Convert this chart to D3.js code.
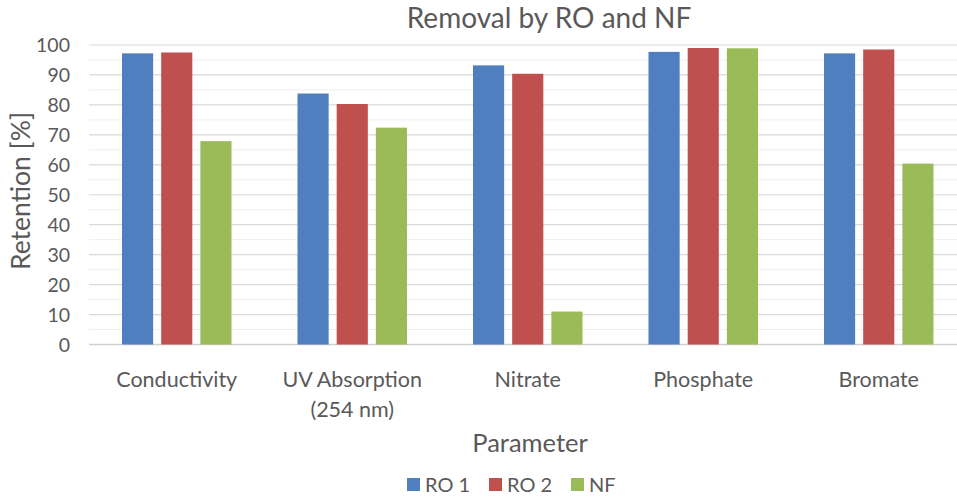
<!DOCTYPE html>
<html><head><meta charset="utf-8">
<script src="https://cdn.jsdelivr.net/npm/d3@7"></script>
<style>body{margin:0;background:#fff}svg{display:block}text{font-family:Lato,"Open Sans",sans-serif;fill:#595959}</style>
</head><body><svg id="c" width="957" height="498"></svg>
<script>
const categories = ["Conductivity", "UV Absorption\n(254 nm)", "Nitrate", "Phosphate", "Bromate"];
const seriesNames = ["RO 1", "RO 2", "NF"];
const ro1 = [97.2, 83.8, 93.2, 97.7, 97.2];
const ro2 = [97.5, 80.3, 90.4, 99.0, 98.5];
const nf  = [67.9, 72.4, 11.0, 98.9, 60.4];
const colors = ["#4f7fbe", "#c0504d", "#9bbb59"];
const yTicks = [0,10,20,30,40,50,60,70,80,90,100];
const minorTicks = [5,15,25,35,45,55,65,75,85,95];

const svg = d3.select("#c");
const x = d3.scaleBand().domain(categories).range([89, 966.5]);
const inner = d3.scaleBand().domain(seriesNames).range([33, 142.5]).paddingInner(8/39);
const y = d3.scaleLinear().domain([0,100]).range([344.5, 45]);
const series = [ro1, ro2, nf];

svg.append("g").selectAll("line").data(minorTicks).join("line")
  .attr("x1", 89).attr("x2", 957).attr("y1", d=>y(d)).attr("y2", d=>y(d))
  .attr("stroke", "#efefef").attr("stroke-width", 1);
svg.append("g").selectAll("line").data(yTicks).join("line")
  .attr("x1", 89).attr("x2", 957).attr("y1", d=>y(d)).attr("y2", d=>y(d))
  .attr("stroke", d=> d===0 ? "#d0d0d0" : "#d9d9d9").attr("stroke-width", d=> d===0?1.5:1.2);

svg.append("g").selectAll("text").data(yTicks).join("text")
  .attr("x", 70).attr("y", d=>y(d)).attr("dy", "0.36em").attr("text-anchor","end")
  .attr("font-size", 19.5).text(d=>d);

series.forEach((vals, si) => {
  svg.append("g").selectAll("rect").data(vals).join("rect")
    .attr("x", (d,i)=> x(categories[i]) + inner(seriesNames[si]))
    .attr("width", inner.bandwidth())
    .attr("y", d=>y(d)).attr("height", d=>y(0)-y(d))
    .attr("fill", colors[si]);
});

categories.forEach(c => {
  const lines = c.split("\n");
  const t = svg.append("text").attr("text-anchor","middle").attr("font-size",21.5)
    .attr("x", x(c)+x.bandwidth()/2).attr("y", 387);
  lines.forEach((l,i)=> t.append("tspan").attr("x", x(c)+x.bandwidth()/2).attr("dy", i?30:0).text(l));
});

svg.append("text").attr("x", 549).attr("y", 28).attr("text-anchor","middle").attr("font-size",28).text("Removal by RO and NF");
svg.append("text").attr("transform","translate(30,191) rotate(-90)").attr("text-anchor","middle").attr("font-size",26.5).text("Retention [%]");
svg.append("text").attr("x", 530).attr("y", 452).attr("text-anchor","middle").attr("font-size",25.5).text("Parameter");

const lx = [407, 489, 571];
seriesNames.forEach((n,i)=>{
  svg.append("rect").attr("x", lx[i]).attr("y", 478).attr("width", 13).attr("height", 13).attr("fill", colors[i]);
  svg.append("text").attr("x", lx[i]+18).attr("y", 492).attr("font-size",20).text(n);
});
</script></body></html>
